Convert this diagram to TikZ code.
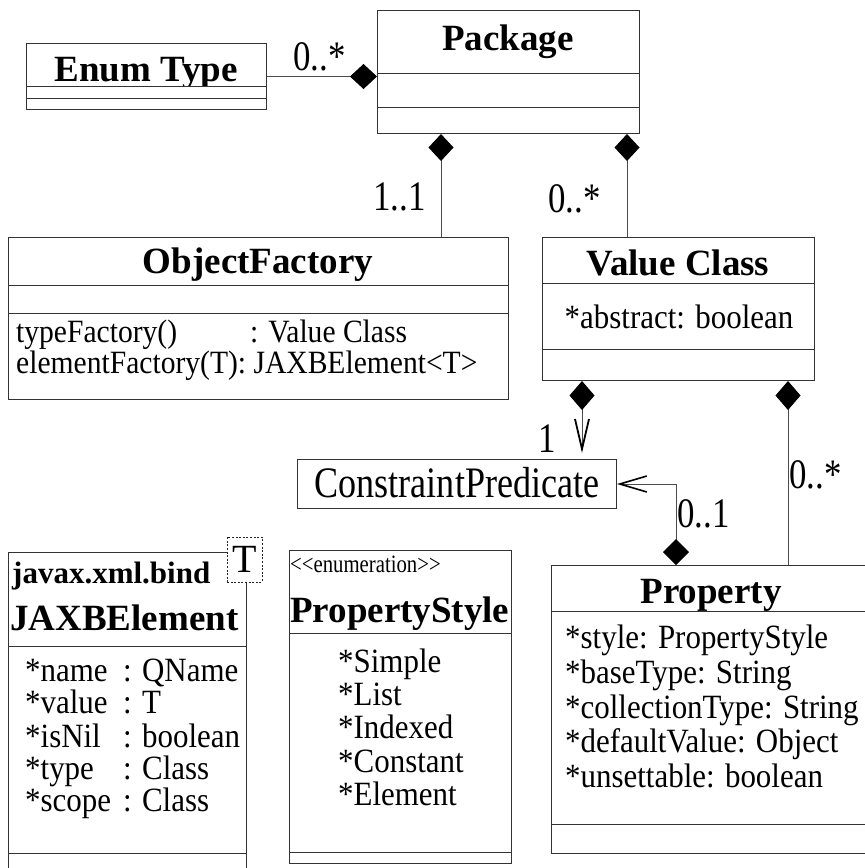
\documentclass[tikz,border=0pt]{standalone}
\usepackage{fontspec}
\setmainfont{Liberation Serif}
\newfontfamily\condf[FakeStretch=0.91]{Liberation Serif}
\newfontfamily\labf[FakeStretch=0.83]{Liberation Serif}
\usetikzlibrary{arrows.meta}
\begin{document}
\begin{tikzpicture}[x=1pt,y=-1pt,
  ln/.style={draw=black!80, line width=1pt},
  box/.style={ln, fill=white, rectangle, inner sep=0pt, anchor=north west},
  ttl/.style={font=\bfseries\fontsize{37}{40}\selectfont, inner sep=0pt, anchor=base},
  ttlw/.style={font=\bfseries\fontsize{37}{40}\selectfont, inner sep=0pt, anchor=base west},
  att/.style={font=\condf\fontsize{34}{36}\selectfont, inner sep=0pt, anchor=base west},
  attc/.style={font=\condf\fontsize{34}{36}\selectfont, inner sep=0pt, anchor=base},
  meth/.style={font=\condf\fontsize{32.5}{34}\selectfont, inner sep=0pt, anchor=base west},
  mult/.style={font=\labf\fontsize{42}{44}\selectfont, inner sep=0pt, anchor=base west},
  conn/.style={draw=black!70, line width=1pt},
  comp/.style={conn, {Diamond[length=27pt,width=25pt,color=black]}-},
]
\useasboundingbox (0,0) rectangle (865,868);

% ---------- Package ----------
\node[box, minimum width=262pt, minimum height=123pt] (pkg) at (377,10) {};
\draw[ln] (377,73) -- (639,73);
\draw[ln] (377,107) -- (639,107);
\node[ttl] (pkgT) at (508,50) {Package};

% ---------- Enum Type ----------
\node[box, minimum width=240pt, minimum height=66pt] (enum) at (26,43) {};
\node[ttl] (enumT) at (146,81) {Enum Type};
\filldraw[ln, fill=white] (26,86) rectangle (266,109);
\draw[ln] (26,98) -- (266,98);

% ---------- ObjectFactory ----------
\node[box, minimum width=500pt, minimum height=162pt] (of) at (8,237) {};
\draw[ln] (8,285) -- (508,285);
\draw[ln] (8,313) -- (508,313);
\node[ttl] (ofT) at (258,273) {ObjectFactory};
\node[meth] (of1) at (16,342) {typeFactory()};
\node[meth] (of1b) at (250,342) {: Value Class};
\node[meth] (of2) at (16,373) {elementFactory(T): JAXBElement<T>};

% ---------- Value Class ----------
\node[box, minimum width=272pt, minimum height=143pt] (vc) at (542,237) {};
\draw[ln] (542,283) -- (814,283);
\draw[ln] (542,349) -- (814,349);
\node[ttl] (vcT) at (678,275) {Value Class};
\node[attc] (vc1) at (679,328) {*abstract: boolean};

% ---------- ConstraintPredicate ----------
\node[box, minimum width=319pt, minimum height=49pt] (cp) at (297,459) {};
\node[font=\labf\fontsize{43.5}{46}\selectfont, inner sep=0pt, anchor=base] (cpT) at (457,497) {ConstraintPredicate};

% ---------- JAXBElement ----------
\node[box, minimum width=238pt, minimum height=330pt] (jx) at (8,552) {};
\draw[ln] (8,646) -- (246,646);
\draw[ln] (8,853) -- (246,853);
\node[font=\bfseries\fontsize{31}{34}\selectfont, inner sep=0pt, anchor=base west] (jxP) at (12,583) {javax.xml.bind};
\node[ttlw] (jxT) at (10,630) {JAXBElement};
\node[att] (jx1) at (25,681) {\makebox[98pt][l]{*name}: QName};
\node[att] (jx2) at (25,713) {\makebox[98pt][l]{*value}: T};
\node[att] (jx3) at (25,747) {\makebox[98pt][l]{*isNil}: boolean};
\node[att] (jx4) at (25,779) {\makebox[98pt][l]{*type}: Class};
\node[att] (jx5) at (25,811) {\makebox[98pt][l]{*scope}: Class};
\node[draw=black!85, line width=0.8pt, dash pattern=on 2pt off 1.6pt, fill=white,
      minimum width=35pt, minimum height=45pt, inner sep=0pt,
      font=\fontsize{40}{42}\selectfont] (tmpl) at (244.5,559.5) {T};

% ---------- PropertyStyle ----------
\node[box, minimum width=222pt, minimum height=313pt] (ps) at (289,550) {};
\draw[ln] (289,633) -- (511,633);
\draw[ln] (289,852) -- (511,852);
\node[font=\labf\fontsize{25}{27}\selectfont, inner sep=0pt, anchor=base west] (psS) at (290,572) {<{}<enumeration>{}>};
\node[ttlw] (psT) at (290,622) {PropertyStyle};
\node[att] (ps1) at (338,672) {*Simple};
\node[att] (ps2) at (338,705) {*List};
\node[att] (ps3) at (338,738) {*Indexed};
\node[att] (ps4) at (338,772) {*Constant};
\node[att] (ps5) at (338,805) {*Element};

% ---------- Property ----------
\node[box, minimum width=329pt, minimum height=288pt] (prop) at (551,565) {};
\draw[ln] (551,611) -- (880,611);
\draw[ln] (551,824) -- (880,824);
\node[ttl] (propT) at (711,603) {Property};
\node[att] (pr1) at (565,648) {*style: PropertyStyle};
\node[att] (pr2) at (565,683) {*baseType: String};
\node[att] (pr3) at (565,718) {*collectionType: String};
\node[att] (pr4) at (565,752) {*defaultValue: Object};
\node[att] (pr5) at (565,787) {*unsettable: boolean};

% ---------- connectors ----------
\coordinate (p1) at ([xshift=64pt]pkg.south west);
\coordinate (p2) at ([xshift=250pt]pkg.south west);
\coordinate (v1) at ([xshift=40pt]vc.south west);
\coordinate (v2) at ([xshift=246pt]vc.south west);
\coordinate (q1) at ([xshift=125pt]prop.north west);

\draw[comp] (pkg.west |- enum.east) -- (enum.east);
\draw[comp] (p1) -- (p1 |- of.north);
\draw[comp] (p2) -- (p2 |- vc.north);
\draw[conn, {Diamond[length=29pt,width=25pt,color=black]}-{Straight Barb[length=30pt,width=14pt,line width=1.8pt,color=black]}, shorten >=6pt]
  (v1) -- (v1 |- cp.north);
\draw[conn, {Diamond[length=29pt,width=25pt,color=black]}-] (v2) -- (v2 |- prop.north);
\draw[conn, {Diamond[length=26pt,width=26pt,color=black]}-{Straight Barb[length=27pt,width=16pt,line width=1.6pt,color=black]}]
  (q1) -- (q1 |- cp.east) -- (cp.east);

% ---------- multiplicities ----------
\node[mult] (m1) at (293,70) {0..*};
\node[mult] (m2) at (373,210) {1..1};
\node[mult] (m3) at (548,212) {0..*};
\node[mult] (m4) at (538,452) {1};
\node[mult] (m5) at (677,527) {0..1};
\node[mult] (m6) at (789,488) {0..*};
\end{tikzpicture}
\end{document}
